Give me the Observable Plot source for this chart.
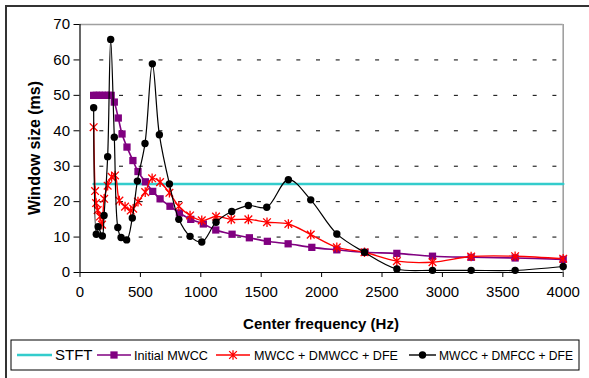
<!DOCTYPE html>
<html><head><meta charset="utf-8">
<script src="https://cdn.jsdelivr.net/npm/d3@7"></script>
<script src="https://cdn.jsdelivr.net/npm/@observablehq/plot@0.6"></script>
<style>
body{margin:0;background:#fff;}
#chart{position:relative;width:589px;height:378px;overflow:hidden;}
</style></head><body><div id="chart"></div>
<script>
// ---- data ----
const xTicks = [0, 500, 1000, 1500, 2000, 2500, 3000, 3500, 4000];
const yTicks = [0, 10, 20, 30, 40, 50, 60, 70];
const gridTicks = [10, 20, 30, 40, 50, 60];

const seriesNames = ["STFT", "Initial MWCC", "MWCC + DMWCC + DFE", "MWCC + DMFCC + DFE"];

const stftFreq = [113, 4000];
const stftWin = [25, 25];

const mwccFreq = [113,135,160,185,210,235,258,284,317,348,389,438,480,541,602,663,745,823,917,1021,1124,1259,1402,1551,1723,1919,2126,2360,2623,2918,3238,3602,4000];
const mwccWin = [50,50,50,50,50,50,50,48.1,43.6,39.1,35.4,31.6,28.5,25.6,22.9,20.8,18.7,16.8,15.0,13.7,12.0,10.8,9.8,8.8,8.1,7.1,6.4,5.7,5.4,4.6,4.3,4.1,3.7];

const dmwccFreq = [113,125,133,146,165,182,200,229,262,290,326,373,420,440,480,540,597,663,740,818,911,1008,1126,1252,1394,1548,1725,1910,2126,2355,2623,2918,3238,3602,4000];
const dmwccWin = [41,23,19.6,17.6,15.8,13.5,20.8,24.5,27,27.4,20.3,18.6,17.5,18,20,22.7,26.6,25.5,22.5,18.7,16.1,14.7,15.8,15.0,15.0,14.2,13.7,10.7,7.1,5.7,3.2,2.9,4.5,4.6,3.9];

const dmfccFreq = [113,135,150,185,199,229,254,284,313,340,386,433,475,538,599,657,740,818,911,1008,1126,1256,1394,1546,1725,1910,2126,2355,2623,2918,3238,3602,4000];
const dmfccWin = [46.5,10.8,12.9,10.3,16.1,32.7,65.8,38.2,12.7,9.9,9.2,15.4,25.8,36.4,58.9,38.9,25.0,15.0,10.2,8.6,14.2,17.2,18.9,18.4,26.2,20.5,10.9,5.7,1.0,0.6,0.6,0.6,1.7];

const colors = ["#33CCCC", "#800080", "#FF0000", "#000000"];

// ---- tables ----
const toRows = (fs, ws) => fs.map((f, i) => ({f, w: ws[i]}));
const stft = toRows(stftFreq, stftWin);
const mwcc = toRows(mwccFreq, mwccWin);
const dmwcc = toRows(dmwccFreq, dmwccWin);
const dmfcc = toRows(dmfccFreq, dmfccWin);

// Excel-like star marker: X plus vertical bar
const starSymbol = {
  draw(ctx, size) {
    const r = Math.sqrt(size / Math.PI);
    const d = r * 0.8;
    ctx.moveTo(0, -r); ctx.lineTo(0, r);
    ctx.moveTo(-d, -d); ctx.lineTo(d, d);
    ctx.moveTo(-d, d); ctx.lineTo(d, -d);
  }
};

const font = "'Liberation Sans', Arial, sans-serif";

const svg = Plot.plot({
  width: 589, height: 378,
  marginLeft: 79.5, marginRight: 26.3, marginTop: 24, marginBottom: 106,
  style: {fontFamily: font, fontSize: "15px", color: "black", background: "white", overflow: "visible"},
  x: {domain: [0, 4000]},
  y: {domain: [0, 70]},
  marks: [
    Plot.ruleY(gridTicks, {x1: 40, x2: 4000, stroke: "black", strokeWidth: 1, strokeDasharray: "4,15.7", strokeDashoffset: 4.73}),
    Plot.ruleY([70], {stroke: "#a0a0a0", strokeWidth: 1.6}),
    Plot.ruleX([4000], {stroke: "#a0a0a0", strokeWidth: 1.6}),
    Plot.axisY({ticks: yTicks, tickSize: 6, tickPadding: 4, label: null, fontSize: 15, tickFormat: d => String(d)}),
    Plot.axisX({ticks: xTicks, tickSize: 5, tickPadding: 9, label: null, fontSize: 15, tickFormat: d => String(d)}),
    Plot.ruleX([0], {stroke: "black", strokeWidth: 1.2}),
    Plot.ruleY([0], {stroke: "black", strokeWidth: 1.2}),
    // STFT
    Plot.line(stft, {x: "f", y: "w", stroke: colors[0], strokeWidth: 2.6}),
    // Initial MWCC
    Plot.line(mwcc, {x: "f", y: "w", stroke: colors[1], strokeWidth: 1.6, curve: "catmull-rom"}),
    Plot.dot(mwcc, {x: "f", y: "w", symbol: "square", r: 4.1, fill: colors[1], stroke: "none"}),
    // MWCC + DMWCC + DFE
    Plot.line(dmwcc, {x: "f", y: "w", stroke: colors[2], strokeWidth: 1.4, curve: "catmull-rom"}),
    Plot.dot(dmwcc, {x: "f", y: "w", symbol: starSymbol, r: 4.8, stroke: colors[2], strokeWidth: 1.3, fill: "none"}),
    // MWCC + DMFCC + DFE
    Plot.line(dmfcc, {x: "f", y: "w", stroke: colors[3], strokeWidth: 1.2, curve: "catmull-rom"}),
    Plot.dot(dmfcc, {x: "f", y: "w", r: 3.7, fill: colors[3], stroke: "none"})
  ]
});

document.getElementById("chart").appendChild(svg);

const s = d3.select(svg);
// outer frame (cropped at right/bottom in the reference)
s.append("path").attr("d", "M6,380V6H592").attr("fill", "none").attr("stroke", "#333").attr("stroke-width", 2);

// axis titles
s.append("text").attr("transform", "translate(34.5,148) rotate(-90)")
  .attr("text-anchor", "middle").attr("dominant-baseline", "central")
  .attr("font-family", font).attr("font-weight", "bold").attr("font-size", 16)
  .attr("fill", "black").text("Window size (ms)");
s.append("text").attr("x", 321).attr("y", 329)
  .attr("text-anchor", "middle")
  .attr("font-family", font).attr("font-weight", "bold").attr("font-size", 15)
  .attr("fill", "black").text("Center frequency (Hz)");

// legend
const lg = s.append("g").attr("text-anchor", "start");
lg.append("rect").attr("x", 11).attr("y", 340).attr("width", 568).attr("height", 30)
  .attr("fill", "white").attr("stroke", "black").attr("stroke-width", 1);
const ly = 355;
const items = [
  {l0: 17, l1: 52, t: 55, len: null, size: 15, sym: null},
  {l0: 97, l1: 131, t: 134, len: 74, size: 13, sym: d3.symbolSquare, r: 4.1},
  {l0: 216, l1: 250, t: 254, len: 144, size: 13, sym: starSymbol, r: 4.8},
  {l0: 409, l1: 436, t: 439, len: 134, size: 13, sym: d3.symbolCircle, r: 3.7}
];
items.forEach((it, i) => {
  lg.append("line").attr("x1", it.l0).attr("x2", it.l1).attr("y1", ly).attr("y2", ly)
    .attr("stroke", colors[i]).attr("stroke-width", i === 0 ? 2.6 : 1.4);
  if (it.sym) {
    const p = d3.symbol(it.sym, Math.PI * it.r * it.r)();
    const el = lg.append("path").attr("d", p).attr("transform", `translate(${(it.l0 + it.l1) / 2},${ly})`);
    if (it.sym === starSymbol) el.attr("fill", "none").attr("stroke", colors[i]).attr("stroke-width", 1.3);
    else el.attr("fill", colors[i]);
  }
  const tx = lg.append("text").attr("x", it.t).attr("y", ly).attr("dy", "0.36em")
    .attr("text-anchor", "start")
    .attr("font-family", font).attr("font-size", it.size).attr("fill", "black").text(seriesNames[i]);
  if (it.len) tx.attr("textLength", it.len).attr("lengthAdjust", "spacingAndGlyphs");
});
</script>
</body></html>
